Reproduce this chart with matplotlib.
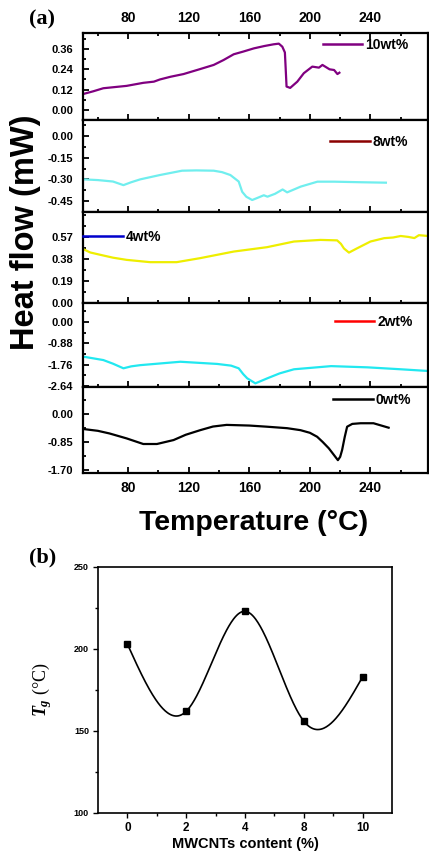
import numpy as np
import matplotlib.pyplot as plt
from matplotlib.lines import Line2D

plt.rcParams['font.family'] = ['Liberation Sans', 'DejaVu Sans']
plt.rcParams['mathtext.fontset'] = 'custom'
plt.rcParams['mathtext.it'] = 'Liberation Serif:italic:bold'
plt.rcParams['mathtext.rm'] = 'Liberation Serif'

# ---- panel (a): DSC curves ----
t_10 = [50.4, 57, 63.6, 79, 90, 97, 101, 108, 116.6, 127, 136.5, 143, 149.7, 156, 163, 170,
        176, 179.5, 181.8, 183.5, 184, 184.6, 187, 191.7, 196, 201.6, 206, 208.3, 213, 216,
        218.2, 219.5]
hf_10 = [0.094, 0.11, 0.128, 0.142, 0.16, 0.167, 0.18, 0.196, 0.212, 0.24, 0.266, 0.295, 0.329,
         0.345, 0.364, 0.378, 0.388, 0.392, 0.374, 0.34, 0.25, 0.138, 0.13, 0.167, 0.217, 0.256,
         0.25, 0.266, 0.24, 0.236, 0.212, 0.22]

t_8 = [50.4, 60, 70, 76.9, 82, 88, 101, 115.6, 125, 136.5, 142, 147.5, 153, 155.3, 158,
       161.9, 165, 169.6, 172, 177, 182, 185, 194, 205, 216, 234, 250.2]
hf_8 = [-0.30, -0.305, -0.315, -0.34, -0.32, -0.30, -0.27, -0.24, -0.238, -0.24, -0.25, -0.27,
        -0.315, -0.386, -0.42, -0.443, -0.43, -0.41, -0.42, -0.40, -0.37, -0.39, -0.35, -0.316,
        -0.316, -0.32, -0.323]

t_4 = [50.4, 55, 61.9, 70, 79, 94.5, 112, 127.6, 149.7, 171.7, 189.5, 207, 218, 220.5, 222.5,
       225.8, 231, 240, 249, 255, 260, 265, 269, 272, 278]
hf_4 = [0.464, 0.435, 0.414, 0.39, 0.371, 0.351, 0.351, 0.386, 0.443, 0.481, 0.53, 0.544, 0.54,
        0.51, 0.47, 0.434, 0.47, 0.53, 0.559, 0.565, 0.578, 0.57, 0.56, 0.585, 0.578]

t_2 = [50.4, 63.6, 70, 76.9, 82, 88, 114.5, 138.8, 148, 153, 156, 158.6, 164, 172, 180, 189.5,
       214, 238, 260, 278]
hf_2 = [-1.43, -1.57, -1.72, -1.91, -1.83, -1.78, -1.64, -1.73, -1.80, -1.91, -2.15, -2.32,
        -2.53, -2.32, -2.12, -1.95, -1.82, -1.87, -1.95, -2.02]

t_0 = [50.4, 60, 67.7, 79, 90, 99, 110, 118, 127.6, 136, 145, 160, 171.7, 185, 193.8, 200,
       204.8, 208.5, 212.5, 216, 218.5, 220, 221.3, 223, 224.6, 228, 233.5, 242, 252]
hf_0 = [-0.455, -0.51, -0.59, -0.74, -0.91, -0.91, -0.79, -0.63, -0.49, -0.38, -0.33, -0.35,
        -0.385, -0.43, -0.49, -0.57, -0.69, -0.85, -1.04, -1.25, -1.40, -1.30, -1.09, -0.70,
        -0.385, -0.30, -0.28, -0.28, -0.415]

labels = ['10wt%', '8wt%', '4wt%', '2wt%', '0wt%']
curve_colors = ['#800080', '#70EEEE', '#EEEE00', '#22E8F0', 'black']
legend_colors = ['#800080', '#8B0000', '#0000CC', '#FF0000', 'black']
yticks = [[0.00, 0.12, 0.24, 0.36], [-0.45, -0.30, -0.15, 0.00], [0.00, 0.19, 0.38, 0.57],
          [-2.64, -1.76, -0.88, 0.00], [-1.70, -0.85, 0.00]]
ylims = [(-0.06, 0.455), (-0.526, 0.111), (-0.003, 0.786), (-2.68, 0.78), (-1.79, 0.82)]
curves = [(t_10, hf_10), (t_8, hf_8), (t_4, hf_4), (t_2, hf_2), (t_0, hf_0)]
xticks = [80, 120, 160, 200, 240]

# ---- panel (b): Tg vs MWCNT content ----
content = ['0', '2', '4', '8', '10']
tg = [203, 162, 223, 156, 183]


def natural_spline(x, y, xs):
    x = np.asarray(x, float)
    y = np.asarray(y, float)
    n = len(x)
    h = np.diff(x)
    A = np.zeros((n, n))
    r = np.zeros(n)
    A[0, 0] = A[-1, -1] = 1
    for i in range(1, n - 1):
        A[i, i - 1] = h[i - 1]
        A[i, i] = 2 * (h[i - 1] + h[i])
        A[i, i + 1] = h[i]
        r[i] = 6 * ((y[i + 1] - y[i]) / h[i] - (y[i] - y[i - 1]) / h[i - 1])
    M = np.linalg.solve(A, r)
    out = []
    for s in xs:
        i = min(np.searchsorted(x, s) - 1, n - 2)
        i = max(i, 0)
        a = x[i + 1] - s
        b = s - x[i]
        out.append(M[i] * a ** 3 / (6 * h[i]) + M[i + 1] * b ** 3 / (6 * h[i])
                   + (y[i] / h[i] - M[i] * h[i] / 6) * a
                   + (y[i + 1] / h[i] - M[i + 1] * h[i] / 6) * b)
    return np.array(out)


W, H = 429, 856
fig = plt.figure(figsize=(W / 100, H / 100), dpi=100)

left, right = 83, 428
edges = [33, 120, 212, 303, 387, 473]
legend_pos = [(0.695, 0.862), (0.716, 0.76), (0.0, 0.725), (0.73, 0.774), (0.725, 0.849)]

axes = []
for k in range(5):
    top, bot = edges[k], edges[k + 1]
    ax = fig.add_axes([left / W, 1 - bot / H, (right - left) / W, (bot - top) / H])
    t, hf = curves[k]
    ax.plot(t, hf, color=curve_colors[k], lw=1.6)
    ax.set_xlim(50.2, 278)
    ax.set_xticks(xticks)
    ax.set_xticks(np.arange(60, 280, 20), minor=True)
    ax.set_yticks(yticks[k])
    ax.set_yticklabels(['%.2f' % v for v in yticks[k]], fontsize=8, fontweight='bold')
    step = yticks[k][1] - yticks[k][0]
    ax.set_yticks(np.arange(yticks[k][0] - step / 2, ylims[k][1], step / 2), minor=True)
    ax.set_ylim(*ylims[k])
    for s in ax.spines.values():
        s.set_linewidth(1.6)
    ax.tick_params(which='both', direction='in', left=True, right=False,
                   top=(k == 0), bottom=True, labeltop=(k == 0), labelbottom=(k == 4),
                   width=1.3)
    ax.tick_params(which='major', length=4, pad=7)
    ax.tick_params(which='minor', length=2.5)
    ax.tick_params(axis='x', labelsize=10, pad=6)
    for lab in ax.get_xticklabels():
        lab.set_fontweight('bold')
    h = Line2D([], [], color=legend_colors[k], lw=1.8)
    ax.legend([h], [labels[k]], loc='center left', bbox_to_anchor=legend_pos[k],
              frameon=False, borderpad=0, borderaxespad=0, handlelength=2.85,
              handletextpad=0.2, prop={'size': 10, 'weight': 'bold'})
    axes.append(ax)

fig.text(26 / W, 1 - 232 / H, 'Heat flow (mW)', rotation=90, ha='center', va='center',
         fontsize=23.5, fontweight='bold')
fig.text(254 / W, 1 - 523 / H, 'Temperature (°C)', ha='center', va='center',
         fontsize=20.5, fontweight='bold')
fig.text(42 / W, 1 - 19 / H, '(a)', ha='center', va='center', fontsize=16,
         fontweight='bold', family='Liberation Serif')

# panel (b)
bl, br, bt, bb = 98, 392, 567, 813
axb = fig.add_axes([bl / W, 1 - bb / H, (br - bl) / W, (bb - bt) / H])
idx = np.arange(len(content))
xs = np.linspace(0, len(content) - 1, 300)
axb.plot(xs, natural_spline(idx, tg, xs), color='black', lw=1.2)
axb.plot(idx, tg, 's', color='black', ms=5)
axb.set_xlim(-0.5, 4.5)
axb.set_ylim(100, 250)
axb.set_xticks(idx)
axb.set_xticklabels(content, fontsize=8.5, fontweight='bold')
axb.set_xticks(idx[:-1] + 0.5, minor=True)
axb.set_yticks([100, 150, 200, 250])
axb.set_yticklabels(['100', '150', '200', '250'], fontsize=6.5, fontweight='bold')
axb.set_yticks([125, 175, 225], minor=True)
for s in axb.spines.values():
    s.set_linewidth(1.2)
axb.tick_params(which='both', direction='out', top=False, right=False, width=1)
axb.tick_params(which='major', length=3.5, pad=3)
axb.tick_params(which='minor', length=2)
axb.set_xlabel('MWCNTs content (%)', fontsize=10.5, fontweight='bold', labelpad=2)
axb.set_ylabel(r'$T_g$ (°C)', fontsize=13, labelpad=14, family='Liberation Serif')
fig.text(43 / W, 1 - 557 / H, '(b)', ha='center', va='center', fontsize=16,
         fontweight='bold', family='Liberation Serif')

fig.savefig('out.png', dpi=100)
